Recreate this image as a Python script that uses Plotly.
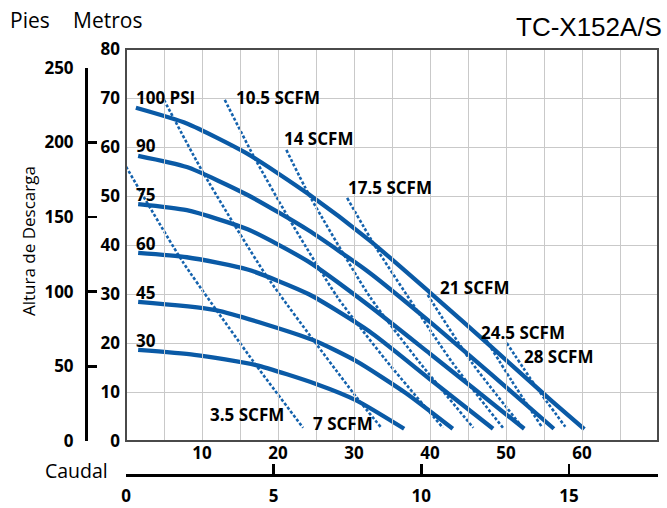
import plotly.graph_objects as go

# ---------------- data (top flow axis units 0-70, head in metres) ----------------
X_TICKS = [10, 20, 30, 40, 50, 60, 70]
Y_M_TICKS = [0, 10, 20, 30, 40, 50, 60, 70, 80]
Y_FT_TICKS = [0, 50, 100, 150, 200, 250]
X2_TICKS = [0, 5, 10, 15]

psi_labels = ["100 PSI", "90", "75", "60", "45", "30"]
psi_q = [
    [1.3, 8, 16, 24, 32, 40, 48, 56, 60.3],
    [1.6, 8, 16, 24, 32, 40, 48, 56.3],
    [1.6, 8, 16, 24, 32, 40, 46, 52.4],
    [1.6, 8, 16, 24, 32, 40, 48.3],
    [1.6, 11.8, 24.6, 30.3, 36.8, 43.0],
    [1.6, 9, 17.1, 25.1, 30.3, 36.6],
]
psi_h = [
    [68.0, 64.8, 58.6, 50.4, 41.0, 30.3, 19.3, 8.2, 2.4],
    [58.2, 55.9, 50.2, 43.0, 34.4, 24.3, 13.7, 2.5],
    [48.35, 47.1, 43.2, 36.6, 27.6, 17.8, 10.4, 2.5],
    [38.4, 37.5, 35.0, 30.0, 22.4, 12.6, 2.5],
    [28.4, 26.7, 20.6, 16.3, 9.8, 2.5],
    [18.6, 17.6, 15.5, 11.6, 8.3, 2.5],
]

scfm_labels = ["3.5 SCFM", "7 SCFM", "10.5 SCFM", "14 SCFM", "17.5 SCFM",
               "21 SCFM", "24.5 SCFM", "28 SCFM"]
scfm_q = [
    [0.0, 7.5, 17.1, 23.3],
    [5.0, 10.1, 18.4, 30.3, 33.6],
    [13.0, 16.7, 21.4, 27.8, 34.3, 41.7],
    [21.1, 24.1, 32.1, 38.7, 45.7],
    [29.1, 33.0, 42.9, 49.6],
    [39.7, 45.5, 52.2],
    [47.0, 50.7, 54.7],
    [50.1, 53.8, 57.8],
]
scfm_h = [
    [56.0, 36.5, 15.5, 2.7],
    [69.6, 54.9, 33.9, 9.0, 2.7],
    [69.6, 58.4, 45.5, 29.4, 16.3, 2.7],
    [59.4, 50.2, 29.4, 15.9, 2.7],
    [49.6, 39.2, 16.1, 2.7],
    [29.8, 16.0, 2.7],
    [21.6, 12.4, 2.9],
    [20.0, 11.4, 2.9],
]

M_TO_FT = 3.28084
Q_PER_X2 = 3.886   # top-axis units per bottom-axis unit

# ---------------- geometry helpers (pixel -> paper) ----------------
W, H = 667, 508
def px(x):
    return x / W
def py(y):
    return 1 - y / H

PLOT_L, PLOT_R, PLOT_T, PLOT_B = 126, 658, 49, 441
X_MAX, Y_MAX = 70, 80
m_per_px = Y_MAX / (PLOT_B - PLOT_T)
ft_top_px = PLOT_B - (Y_FT_TICKS[-1] / M_TO_FT) / m_per_px

BLUE = "#0a5aa6"
DOT_BLUE = "#1462ad"
FRAME = "#4a4a4a"
GRID = "#c9c9c9"
BOLD = dict(family="Open Sans", size=17, color="black", weight="bold")

fig = go.Figure()

# empty traces so the secondary (feet / bottom flow) axes are drawn
fig.add_trace(go.Scatter(x=[], y=[], xaxis="x", yaxis="y2", hoverinfo="skip", showlegend=False))
fig.add_trace(go.Scatter(x=[], y=[], xaxis="x2", yaxis="y", hoverinfo="skip", showlegend=False))

for q, h in zip(scfm_q, scfm_h):
    fig.add_trace(go.Scatter(x=q, y=h, mode="lines",
                             line=dict(color=DOT_BLUE, width=2.6, dash="3px,2px", shape="spline", smoothing=0.6),
                             hoverinfo="skip", showlegend=False))
for q, h in zip(psi_q, psi_h):
    fig.add_trace(go.Scatter(x=q, y=h, mode="lines",
                             line=dict(color=BLUE, width=4.3, shape="spline", smoothing=0.6),
                             hoverinfo="skip", showlegend=False))

# ---------------- plot frame ----------------
fig.add_shape(type="rect", xref="x domain", yref="y domain", x0=0, x1=1, y0=0, y1=1,
              line=dict(color=FRAME, width=2), layer="above")

# ---------------- labels on curves ----------------
psi_pos = [(135, 97), (135, 145), (135, 194), (135, 243), (135, 292), (135, 340)]
scfm_pos = [(209, 414), (312, 423), (235, 97), (283, 138), (347, 187), (439, 287), (480, 332), (523, 356)]
def to_data(x, y):
    return (x - PLOT_L) / (PLOT_R - PLOT_L) * X_MAX, (PLOT_B - y) * m_per_px

for txt, (x, y) in list(zip(psi_labels, psi_pos)) + list(zip(scfm_labels, scfm_pos)):
    dx, dy = to_data(x, y)
    fig.add_annotation(x=dx, y=dy, xref="x", yref="y", text=txt, showarrow=False,
                       xanchor="left", yanchor="middle", font=BOLD, borderpad=0)

# ---------------- titles ----------------
REG = dict(family="Open Sans", color="black")
fig.add_annotation(x=px(8), y=py(20), xref="paper", yref="paper", text="Pies", showarrow=False,
                   xanchor="left", yanchor="middle", font=dict(**REG, size=21))
fig.add_annotation(x=px(71), y=py(20), xref="paper", yref="paper", text="Metros", showarrow=False,
                   xanchor="left", yanchor="middle", font=dict(**REG, size=21))
fig.add_annotation(x=px(664), y=py(27), xref="paper", yref="paper", text="TC-X152A/S", showarrow=False,
                   xanchor="right", yanchor="middle", font=dict(family="Liberation Sans", size=26, color="black"))
fig.add_annotation(x=px(28), y=py(241), xref="paper", yref="paper", text="Altura de Descarga", showarrow=False,
                   textangle=-90, xanchor="center", yanchor="middle", font=dict(**REG, size=17))
fig.add_annotation(x=px(43), y=py(470), xref="paper", yref="paper", text="Caudal", showarrow=False,
                   xanchor="left", yanchor="middle", font=dict(**REG, size=19.5))

fig.update_layout(
    width=W, height=H,
    margin=dict(l=0, r=0, t=0, b=0),
    paper_bgcolor="white", plot_bgcolor="rgba(0,0,0,0)",
    showlegend=False,
    xaxis=dict(domain=[px(PLOT_L), px(PLOT_R)], range=[0, X_MAX], tickvals=X_TICKS,
               showgrid=True, gridcolor=GRID, gridwidth=1,
               minor=dict(dtick=5, tick0=0, showgrid=True, gridcolor=GRID, gridwidth=1, ticks=""),
               showline=False, zeroline=False,
               ticks="", tickfont=BOLD, automargin=False, fixedrange=True),
    yaxis=dict(domain=[py(PLOT_B), py(PLOT_T)], range=[0, Y_MAX], tickvals=Y_M_TICKS,
               showgrid=True, gridcolor=GRID, gridwidth=1,
               showline=False, zeroline=False,
               ticks="", tickfont=BOLD, ticklabelstandoff=5, automargin=False, fixedrange=True),
    yaxis2=dict(domain=[py(PLOT_B), py(ft_top_px)], range=[0, Y_FT_TICKS[-1]], tickvals=Y_FT_TICKS,
                anchor="free", position=px(86), side="left", showgrid=False, zeroline=False,
                showline=True, linecolor="black", linewidth=2.5,
                ticks="inside", ticklen=9, tickwidth=2.5, tickcolor="black",
                tickfont=BOLD, ticklabelstandoff=8, automargin=False, fixedrange=True),
    xaxis2=dict(overlaying="x", anchor="free", position=py(475), side="bottom",
                range=[0, X_MAX / Q_PER_X2], tickvals=X2_TICKS, showgrid=False, zeroline=False,
                showline=True, linecolor="black", linewidth=2.5,
                ticks="inside", ticklen=10, tickwidth=2.5, tickcolor="black",
                tickfont=BOLD, ticklabelstandoff=5, automargin=False, fixedrange=True),
)

fig.write_html("out.html", config={"displayModeBar": False, "staticPlot": True},
               post_script="document.body.style.margin='0px';")
